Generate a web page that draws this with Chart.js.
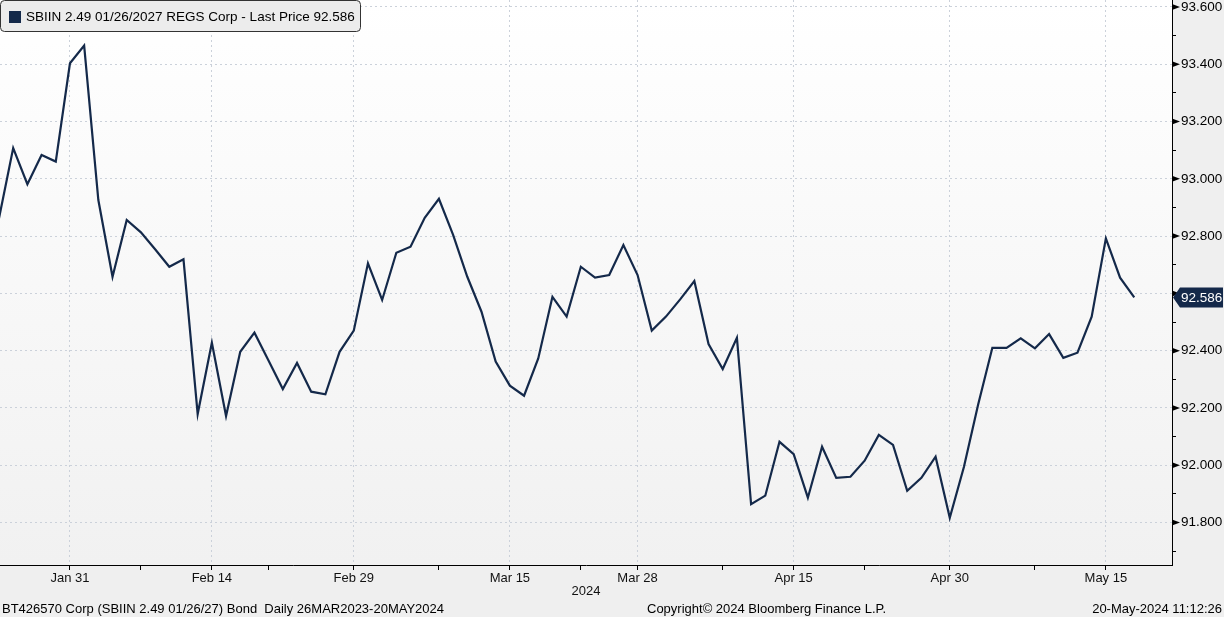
<!DOCTYPE html>
<html>
<head>
<meta charset="utf-8">
<script src="https://cdn.jsdelivr.net/npm/chart.js@4.4.0/dist/chart.umd.min.js"></script>
<style>
  html, body { margin: 0; padding: 0; background: #efefef; }
  #wrap { width: 1224px; height: 617px; position: relative; }
</style>
</head>
<body>
<div id="wrap"><canvas id="chart" width="1224" height="617"></canvas></div>
<script>
// trading days, 2024
const dates = [
    'Jan 24','Jan 25','Jan 26','Jan 29','Jan 30','Jan 31',
    'Feb 1','Feb 2','Feb 5','Feb 6','Feb 7','Feb 8','Feb 9','Feb 12','Feb 13','Feb 14','Feb 15','Feb 16',
    'Feb 20','Feb 21','Feb 22','Feb 23','Feb 26','Feb 27','Feb 28','Feb 29',
    'Mar 1','Mar 4','Mar 5','Mar 6','Mar 7','Mar 8','Mar 11','Mar 12','Mar 13','Mar 14','Mar 15',
    'Mar 18','Mar 19','Mar 20','Mar 21','Mar 22','Mar 25','Mar 26','Mar 27','Mar 28',
    'Apr 1','Apr 2','Apr 3','Apr 4','Apr 5','Apr 8','Apr 9','Apr 10','Apr 11','Apr 12','Apr 15',
    'Apr 16','Apr 17','Apr 18','Apr 19','Apr 22','Apr 23','Apr 24','Apr 25','Apr 26','Apr 29','Apr 30',
    'May 1','May 2','May 3','May 6','May 7','May 8','May 9','May 10','May 13','May 14','May 15','May 16','May 17'
];

// last price
const prices = [
    92.862, 93.107, 92.981, 93.083, 93.060, 93.403,
    93.465, 92.926, 92.658, 92.856, 92.813, 92.754, 92.693, 92.719, 92.179, 92.428, 92.172, 92.396,
    92.463, 92.365, 92.266, 92.357, 92.257, 92.248, 92.396, 92.470,
    92.705, 92.577, 92.742, 92.763, 92.864, 92.930, 92.804, 92.658, 92.536, 92.362, 92.278,
    92.243, 92.373, 92.588, 92.519, 92.693, 92.655, 92.664, 92.769, 92.664,
    92.470, 92.519, 92.579, 92.643, 92.423, 92.336, 92.445, 91.864, 91.894, 92.082, 92.039,
    91.887, 92.065, 91.956, 91.960, 92.016, 92.106, 92.071, 91.911, 91.956, 92.030, 91.817,
    91.995, 92.212, 92.410, 92.410, 92.443, 92.408, 92.458, 92.375, 92.393, 92.519, 92.792, 92.655, 92.586
];

const majorTicks = ['Jan 31', 'Feb 14', 'Feb 29', 'Mar 15', 'Mar 28', 'Apr 15', 'Apr 30', 'May 15'];
const minorTicks = ['Feb 7', 'Feb 21', 'Mar 8', 'Mar 22', 'Apr 8', 'Apr 22', 'May 8'];
const yTicks = [91.8, 92.0, 92.2, 92.4, 92.6, 92.8, 93.0, 93.2, 93.4, 93.6];
const yMinorTicks = [91.7, 91.9, 92.1, 92.3, 92.5, 92.7, 92.9, 93.1, 93.3, 93.5];
const lastPrice = 92.586;

const seriesName = 'SBIIN 2.49 01/26/2027 REGS Corp - Last Price ' + lastPrice.toFixed(3);
const yearLabel = '2024';
const footerLeft = 'BT426570 Corp (SBIIN 2.49 01/26/27) Bond  Daily 26MAR2023-20MAY2024';
const footerMid = 'Copyright\u00a9 2024 Bloomberg Finance L.P.';
const footerRight = '20-May-2024 11:12:26';

const NAVY = '#14294a';
const GRID = '#cbd1da';
const FONT = '"Liberation Sans", Arial, sans-serif';

Chart.defaults.font.family = FONT;
Chart.defaults.font.size = 13;
Chart.defaults.color = '#000';

const isMajorY = v => yTicks.some(t => Math.abs(t - v) < 1e-6);

// background: grey page, white-to-grey plot
const bgPlugin = {
    id: 'bg',
    beforeDraw(chart) {
        const { ctx, chartArea: a } = chart;
        ctx.save();
        ctx.fillStyle = '#efefef';
        ctx.fillRect(0, 0, chart.width, chart.height);
        const g = ctx.createLinearGradient(0, a.top, 0, a.bottom);
        g.addColorStop(0, '#ffffff');
        g.addColorStop(1, '#f1f1f1');
        ctx.fillStyle = g;
        ctx.fillRect(a.left, a.top, a.right - a.left, a.bottom - a.top);
        ctx.restore();
    }
};

// arrows on y axis, last price tag, legend box, footer
const decoPlugin = {
    id: 'deco',
    afterDraw(chart) {
        const { ctx, scales: { y } } = chart;
        const ax = y.left;
        ctx.save();

        // tick arrows
        ctx.fillStyle = '#000';
        yTicks.forEach(v => {
            const py = y.getPixelForValue(v);
            ctx.beginPath();
            ctx.moveTo(ax, py - 3);
            ctx.lineTo(ax + 8, py);
            ctx.lineTo(ax, py + 3);
            ctx.closePath();
            ctx.fill();
        });

        // last price tag
        const ly = y.getPixelForValue(lastPrice);
        ctx.fillStyle = NAVY;
        ctx.beginPath();
        ctx.moveTo(ax + 1, ly);
        ctx.lineTo(ax + 8, ly - 10);
        ctx.lineTo(1223, ly - 10);
        ctx.lineTo(1223, ly + 10);
        ctx.lineTo(ax + 8, ly + 10);
        ctx.closePath();
        ctx.fill();
        ctx.fillStyle = '#fff';
        ctx.font = '13.5px ' + FONT;
        ctx.textAlign = 'left';
        ctx.textBaseline = 'middle';
        ctx.fillText(lastPrice.toFixed(3), ax + 9, ly + 1);

        // legend box
        ctx.fillStyle = '#ececec';
        ctx.strokeStyle = '#333';
        ctx.lineWidth = 1;
        ctx.beginPath();
        ctx.roundRect(0.5, 0.5, 360, 31, 4);
        ctx.fill();
        ctx.stroke();
        ctx.fillStyle = NAVY;
        ctx.fillRect(9, 11, 12, 12);
        ctx.fillStyle = '#000';
        ctx.font = '13.5px ' + FONT;
        ctx.fillText(seriesName, 26, 17);

        // footer
        ctx.font = '13px ' + FONT;
        ctx.fillText(footerLeft, 2, 609);
        ctx.fillText(footerMid, 647, 609);
        ctx.textAlign = 'right';
        ctx.fillText(footerRight, 1222, 609);
        ctx.restore();
    }
};

new Chart(document.getElementById('chart'), {
    type: 'line',
    data: {
        datasets: [{
            label: seriesName,
            data: prices.map((v, i) => ({ x: i, y: v })),
            borderColor: NAVY,
            borderWidth: 2.2,
            pointRadius: 0,
            tension: 0
        }]
    },
    options: {
        responsive: false,
        animation: false,
        devicePixelRatio: 1,
        layout: { padding: 0 },
        plugins: {
            legend: { display: false },
            tooltip: { enabled: false }
        },
        scales: {
            x: {
                type: 'linear',
                min: 0.07,
                max: 82.66,
                afterBuildTicks(scale) {
                    scale.ticks = majorTicks.concat(minorTicks)
                        .map(d => dates.indexOf(d))
                        .sort((a, b) => a - b)
                        .map(v => ({ value: v }));
                },
                afterFit(scale) {
                    scale.height = 52;
                    scale.paddingLeft = 0;
                    scale.paddingRight = 0;
                },
                ticks: {
                    autoSkip: false,
                    maxRotation: 0,
                    padding: 1,
                    color: '#111',
                    callback: v => majorTicks.includes(dates[v]) ? dates[v] : ''
                },
                grid: {
                    color: ctx => (ctx.tick && majorTicks.includes(dates[ctx.tick.value])) ? GRID : 'rgba(0,0,0,0)',
                    lineWidth: 1,
                    tickColor: '#000',
                    tickLength: 5,
                    tickWidth: 1
                },
                border: { display: true, color: '#000', width: 1, dash: [2, 3] },
                title: {
                    display: true,
                    text: yearLabel,
                    color: '#111',
                    padding: { top: 0, bottom: 18 }
                }
            },
            y: {
                position: 'right',
                min: 91.652,
                max: 93.624,
                afterBuildTicks(scale) {
                    scale.ticks = yTicks.concat(yMinorTicks)
                        .sort((a, b) => a - b)
                        .map(v => ({ value: v }));
                },
                afterFit(scale) {
                    scale.width = 52;
                    scale.paddingTop = 0;
                    scale.paddingBottom = 0;
                },
                ticks: {
                    padding: 5,
                    color: '#000',
                    font: { size: 13.5 },
                    callback: v => isMajorY(v) ? v.toFixed(3) : ''
                },
                grid: {
                    color: ctx => (ctx.tick && isMajorY(ctx.tick.value)) ? GRID : 'rgba(0,0,0,0)',
                    lineWidth: 1,
                    tickColor: '#000',
                    tickLength: 4,
                    tickWidth: 1
                },
                border: { display: true, color: '#000', width: 1, dash: [2, 3] }
            }
        }
    },
    plugins: [bgPlugin, decoPlugin]
});
</script>
</body>
</html>
